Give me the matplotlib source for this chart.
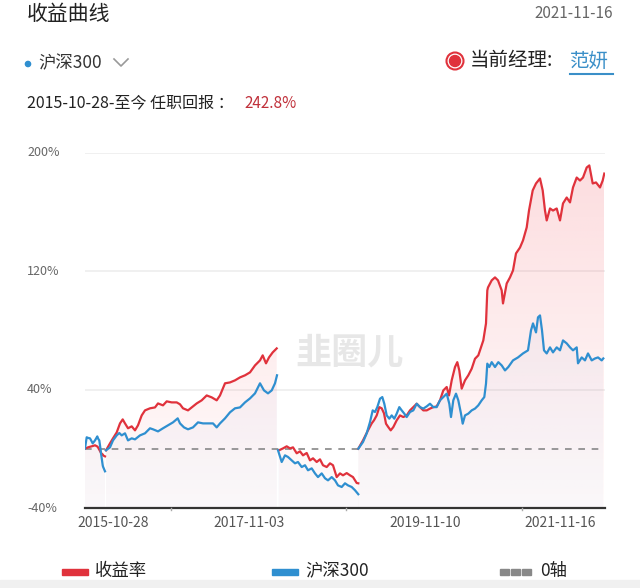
import matplotlib
matplotlib.use("Agg")
import matplotlib.pyplot as plt
import numpy as np
from matplotlib.patches import Circle, Polygon, Rectangle
from matplotlib.lines import Line2D
from matplotlib.transforms import IdentityTransform

plt.rcParams["font.family"] = ["Noto Sans CJK SC", "DejaVu Sans"]

# chart data (x = position along the time axis, y = return in %)
seg1_x = [0, 1.7, 3, 5, 6.7, 7.7, 10, 12.3, 13, 14.3, 15.7, 16, 17.7, 18, 20]
seg1_red = [0.3, 0.6, 1.0, 1.4, 1.7, 1.9, 2.4, 1.6, 1.0, -0.6, -2.4, -2.8, -3.8, -4.4, -5.1]
seg1_blue = [0.3, 7.8, 7.4, 7.1, 5.0, 3.7, 5.7, 8.4, 7.0, 5.7, -1.0, -3.0, -11.1, -12.0, -15.2]

seg2_red_x = [21, 25, 28, 31.7, 35, 37.7, 40, 43, 46.7, 50, 53, 56.7, 60, 65, 70, 73, 78,
              81.7, 86.7, 91.7, 95, 98, 103, 106.7, 111.7, 116.7, 121.7, 126.7, 131.7, 135,
              140, 145, 150, 155, 160, 165, 170, 175, 177.7, 181, 184, 187.7, 191.7]
seg2_red = [-1.0, 3.7, 7.1, 11.1, 17.2, 19.9, 17.2, 13.9, 15.2, 12.5, 15.9, 22.6, 26.0, 27.4,
            28.0, 30.7, 29.4, 32.1, 31.4, 31.4, 30.1, 27.4, 26.0, 28.0, 30.7, 32.8, 36.1, 34.8,
            32.8, 36.1, 44.3, 44.9, 46.3, 48.3, 49.7, 51.7, 56.4, 59.8, 63.2, 57.8, 61.8, 65.2, 67.9]
seg2_blue_x = [21, 25, 28, 31.7, 34.3, 36.7, 40, 43, 46.7, 50, 55, 60, 65, 68, 73, 78, 83, 88,
               92.7, 95, 99, 103, 108, 113, 118, 123, 128, 131.7, 135, 140, 145, 150, 155, 160,
               165, 170, 175, 179, 183, 186.7, 190, 192]
seg2_blue = [-1.0, 1.0, 5.7, 9.1, 10.7, 9.1, 10.5, 5.7, 7.1, 6.4, 9.1, 10.5, 13.9, 13.2, 11.8,
             13.9, 15.9, 17.9, 20.6, 17.2, 14.5, 13.2, 14.5, 17.9, 17.2, 17.2, 17.2, 14.5, 17.2,
             20.6, 24.7, 27.4, 28.0, 31.4, 34.1, 37.5, 44.3, 39.5, 37.5, 39.5, 44.3, 49.7]

seg3_red_x = [194, 198, 201.7, 205, 208, 211.7, 215, 218, 221.7, 225, 228, 231.7, 235, 238,
              241.7, 245, 248, 251.7, 255, 258, 261.7, 265, 268, 271.7, 273.3]
seg3_red = [-1.0, 0.3, 1.7, 0.3, 1.0, -3.0, -1.7, -4.4, -2.8, -7.8, -6.4, -8.9, -7.1, -11.1,
            -12.3, -9.8, -11.1, -19.1, -16.6, -17.9, -16.4, -17.9, -19.1, -23.1, -23.3]
seg3_blue_x = [193, 196.7, 200, 203, 206.7, 210, 213, 216.7, 220, 223, 226.7, 230, 233, 236.7,
               240, 243, 246.7, 250, 253, 256.7, 260, 263, 266.7, 270, 273.3]
seg3_blue = [-1.0, -8.9, -4.4, -5.5, -7.8, -9.8, -8.9, -12.3, -11.1, -14.5, -13.2, -16.6, -19.1,
             -16.6, -19.9, -21.3, -19.1, -21.3, -24.7, -25.8, -23.3, -24.7, -25.8, -28.0, -30.7]

seg4_red_x = [273.3, 278, 283, 286.7, 289, 291.7, 294.3, 296.7, 299, 301, 303.3, 305.7, 308.3,
              311.7, 315, 318.3, 321.7, 325, 328.3, 331.7, 335, 338.3, 341.7, 345, 348.3, 351.7,
              355, 358.3, 361.7, 364, 366.7, 370, 372.3, 374.3, 376.7, 380, 383.3, 386.7, 390,
              393.3, 395, 398.3, 401, 402.3, 403, 406.7, 410, 413, 416.7, 418, 421.7, 425, 428,
              431, 435, 438, 441.7, 444, 447.7, 451, 455, 457.7, 460, 461.7, 465, 468, 471.7, 475,
              478, 481.7, 485, 488, 491.7, 495, 498, 501.7, 504.3, 507.7, 511, 515, 517.7, 519.3]
seg4_red = [0.1, 5.7, 12.5, 17.2, 19.3, 22.6, 28.2, 27.4, 24.0, 17.0, 14.7, 12.5, 14.7, 19.3,
            22.6, 21.5, 22.6, 26.0, 28.2, 30.5, 28.2, 26.0, 26.0, 27.2, 28.2, 28.7, 32.8, 39.5,
            41.8, 36.1, 46.3, 55.3, 58.6, 53.0, 40.7, 46.3, 49.7, 54.2, 60.9, 63.2, 66.6, 73.3,
            84.8, 107.1, 109.1, 113.9, 115.9, 113.9, 107.1, 98.3, 111.8, 115.9, 120.6, 132.1,
            136.1, 140.9, 149.7, 161.1, 174.7, 179.4, 182.8, 174.7, 161.1, 154.4, 162.5, 161.1,
            162.5, 154.4, 165.9, 169.9, 166.6, 176.7, 183.4, 181.4, 183.4, 190.2, 191.6, 179.4,
            180.1, 176.7, 181.4, 186.1]
seg4_blue_x = [273.3, 278, 281.7, 285, 287.7, 290, 292.3, 295, 297.3, 299.3, 301.7, 304.3,
               306.7, 309.3, 311.7, 314.3, 316.7, 319.3, 321.7, 325, 328.3, 331.7, 335, 338.3,
               341.7, 345, 348.3, 351.7, 355, 358.3, 361.7, 364.3, 366, 368.3, 371, 373.3, 376,
               377.7, 380, 383.3, 386.7, 390, 393.3, 396.7, 399.3, 401, 402.3, 404.3, 406.7, 410,
               413.3, 416.7, 420, 423.3, 428, 433, 438, 443, 446, 448, 451, 453, 455, 457, 459,
               461.7, 465, 468, 471.7, 475, 478, 481.7, 485, 488, 491.7, 493, 496.7, 500, 503,
               506.7, 510, 513, 516.7, 518.3]
seg4_blue = [0.1, 4.6, 10.5, 18.1, 26.0, 24.9, 28.2, 33.9, 35.0, 30.5, 22.6, 20.4, 22.6, 20.4,
             23.8, 28.2, 26.0, 23.8, 21.5, 24.9, 26.0, 30.5, 28.2, 27.2, 28.7, 30.5, 28.2, 28.2,
             32.8, 35.0, 37.3, 30.5, 21.5, 32.8, 37.3, 32.8, 23.8, 17.0, 22.6, 23.8, 26.0, 27.2,
             29.4, 32.8, 35.0, 44.1, 57.6, 55.3, 58.6, 55.3, 58.6, 56.4, 53.0, 55.3, 59.8, 61.8,
             64.5, 66.6, 80.1, 84.8, 78.7, 88.9, 90.2, 80.1, 66.6, 64.5, 68.6, 65.2, 68.6, 66.6,
             73.3, 71.3, 68.6, 66.6, 68.6, 57.8, 61.8, 59.8, 64.5, 59.8, 61.1, 61.8, 59.8, 61.1]

y_ticks = [-40, 40, 120, 200]
tick_marks = [86, 261, 437]
date_pos = [28, 164, 340, 475]
date_labels = ["2015-10-28", "2017-11-03", "2019-11-10", "2021-11-16"]

RED = "#e0323c"
BLUE = "#2f8fd0"
W, H = 640, 588

fig = plt.figure(figsize=(6.4, 5.88), dpi=100)
ax = fig.add_axes([85 / W, 80 / H, 520 / W, 355 / H])
for s in ax.spines.values():
    s.set_visible(False)
ax.set_xticks([])
ax.set_yticks([])


def fp(x, y):
    # pixel position from top-left -> figure fraction
    return x / W, 1 - y / H


def grad_fill(xs, ys, rgb, a_top, a_bot, z):
    # vertical gradient fixed to the value axis, clipped to the area under the line
    grad = np.zeros((256, 1, 4))
    grad[:, 0, :3] = matplotlib.colors.to_rgb(rgb)
    grad[:, 0, 3] = np.linspace(a_bot, a_top, 256)
    im = ax.imshow(grad, aspect="auto", origin="lower",
                   extent=[xs[0], xs[-1], -40, 200], zorder=z)
    poly = Polygon(list(zip(xs, ys)) + [(xs[-1], -40), (xs[0], -40)],
                   closed=True, transform=ax.transData, facecolor="none", edgecolor="none")
    ax.add_patch(poly)
    im.set_clip_path(poly)


segments = [
    (seg1_x, seg1_red, seg1_x, seg1_blue),
    (seg2_red_x, seg2_red, seg2_blue_x, seg2_blue),
    (seg3_red_x, seg3_red, seg3_blue_x, seg3_blue),
    (seg4_red_x, seg4_red, seg4_blue_x, seg4_blue),
]
for rx, ry, bx, by in segments:
    grad_fill(rx, ry, "#f4606a", 0.22, 0.02, 1)
    grad_fill(bx, by, "#9aa4d4", 0.10, 0.04, 1.5)
    ax.plot(rx, ry, color=RED, lw=1.6, zorder=4)
    ax.plot(bx, by, color=BLUE, lw=1.6, zorder=5)

# grid lines
for v in y_ticks[1:]:
    ax.axhline(v, color="#eeeeee", lw=1.2, zorder=0)
ax.axhline(0, color="#888888", lw=1.2, ls=(0, (4, 4)), zorder=3)
ax.axhline(-40, color="#333333", lw=1.6, zorder=6, clip_on=False)
for t in tick_marks:
    ax.plot([t, t], [-40, -41.5], color="#aaaaaa", lw=1, clip_on=False, zorder=6)

for v in y_ticks:
    ax.text(-58, v, f"{v}%", ha="left", va="center", fontsize=9, color="#666666")
for p, lab in zip(date_pos, date_labels):
    ax.text(p, -50, lab, ha="center", va="center", fontsize=10, color="#555555")

ax.text(265, 65, "韭圈儿", ha="center", va="center", fontsize=26, fontweight="bold",
        color="#e2e2e2", alpha=0.8, zorder=2)

ax.set_xlim(0, 520)
ax.set_ylim(-40, 200)

# header
fig.text(*fp(27, 14), "收益曲线", fontsize=15, color="#222222", va="center")
fig.text(*fp(613, 14), "2021-11-16", fontsize=11, color="#666666", va="center", ha="right")
fig.patches.append(Circle((28, H - 64), 2.6, transform=IdentityTransform(),
                          color=BLUE, figure=fig))
fig.text(*fp(38, 63), "沪深300", fontsize=12.5, color="#333333", va="center")
fig.lines.append(Line2D([114, 121, 128], [H - 59, H - 66, H - 59], color="#999999", lw=1.2,
                        transform=IdentityTransform(), figure=fig))
fig.patches.append(Circle((455, H - 61), 8.5, transform=IdentityTransform(),
                          facecolor="white", edgecolor=RED, lw=1.5, figure=fig))
fig.patches.append(Circle((455, H - 61), 5.5, transform=IdentityTransform(),
                          color=RED, figure=fig))
fig.text(*fp(470, 61), "当前经理:", fontsize=14, color="#222222", va="center")
fig.text(*fp(570, 61), "范妍", fontsize=14, color="#3a8fc8", va="center")
fig.lines.append(Line2D([570, 613], [H - 74, H - 74], color="#3a8fc8", lw=1.5,
                        transform=IdentityTransform(), figure=fig))
fig.text(*fp(27, 103), "2015-10-28-至今 任职回报 ：", fontsize=11.5, color="#222222",
         va="center")
fig.text(*fp(244, 103), "242.8%", fontsize=11, color="#c0303a", va="center")

# legend
fig.patches.append(Rectangle((62, H - 575), 26, 6, transform=IdentityTransform(),
                             color=RED, figure=fig))
fig.text(*fp(95, 571), "收益率", fontsize=12.5, color="#222222", va="center")
fig.patches.append(Rectangle((272, H - 575), 26, 6, transform=IdentityTransform(),
                             color=BLUE, figure=fig))
fig.text(*fp(305, 571), "沪深300", fontsize=12.5, color="#222222", va="center")
for i in range(3):
    fig.patches.append(Rectangle((500 + i * 11, H - 575), 9, 6, transform=IdentityTransform(),
                                 color="#888888", figure=fig))
fig.text(*fp(540, 571), "0轴", fontsize=12.5, color="#222222", va="center")
fig.patches.append(Rectangle((0, 0), W, 8, transform=IdentityTransform(),
                             color="#f0f0f0", figure=fig))

fig.savefig("out.png", dpi=100)
